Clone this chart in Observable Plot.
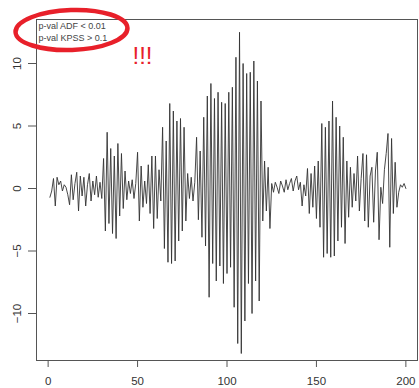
<!DOCTYPE html>
<html>
<head>
<meta charset="utf-8">
<script src="https://cdn.jsdelivr.net/npm/d3@7"></script>
<script src="https://cdn.jsdelivr.net/npm/@observablehq/plot@0.6"></script>
<style>
  html, body { margin: 0; padding: 0; background: #fff; }
  #chart { width: 419px; height: 388px; overflow: hidden; }
</style>
</head>
<body>
<div id="chart"></div>
<script>
// Series values, t = 1..200
const values = [
  -0.7, -0.2, 0.8, -1.4, 0.9, 0.3, 0.6, -0.2, 0.3, 0.1,
  -0.5, -1.3, 1.1, -0.9, 0.4, 1.3, -1.8, 1.0, -0.6, 0.9,
  -1.4, 0.3, 1.2, -1.0, 0.6, -0.5, 1.0, -0.7, 0.5, -0.8,
  2.4, -3.4, 4.5, -2.8, 3.2, -3.6, 2.6, -4.0, 3.6, -2.2,
  2.8, -1.6, 1.4, -0.9, 0.6, -0.4, 0.7, -0.8, 0.4, 2.9,
  -2.6, 1.8, -1.5, 0.6, -1.2, 1.9, -2.0, 2.6, -3.2, 2.6,
  -2.4, 1.5, -1.0, 4.9, -4.8, 3.8, -5.9, 6.8, -6.0, 6.2,
  -5.8, 5.4, -4.2, 5.6, -3.4, 4.9, -2.6, 1.2, -0.8, 0.9,
  -1.0, 0.5, 4.1, -2.5, 3.0, -3.9, 5.7, -4.6, 7.4, -8.7,
  8.4, -6.0, 7.2, -7.4, 7.7, -6.2, 6.9, -7.6, 6.8, -6.8,
  7.7, -6.3, 8.1, -9.5, 10.5, -12.4, 12.5, -13.2, 10.0, -10.6,
  9.2, -7.6, 9.3, -10.0, 10.2, -7.4, 8.6, -9.0, 7.0, -2.6,
  2.2, -1.8, 1.7, -3.2, 0.4, -0.3, 0.5, 0.1, -0.4, 0.6,
  0.2, -0.3, 0.7, -0.1, 0.4, 0.8, -0.2, 0.6, 1.0, -0.1,
  0.5, -1.4, 0.3, -0.6, 1.6, -2.0, 1.2, -1.5, 1.8, -2.4,
  2.2, -3.1, 5.2, -5.5, 4.9, -5.2, 5.4, -5.5, 7.0, -5.4,
  5.7, -4.2, 5.0, -3.1, 4.1, -4.4, 2.2, -2.3, 1.7, -1.5,
  1.2, -1.0, 2.6, -1.8, 0.8, 2.8, -2.6, 2.7, -3.1, 1.0,
  1.7, -2.7, 1.4, 2.9, -4.1, 0.1, -1.2, 1.5, 2.8, 4.4,
  -4.7, 4.0, -2.0, 2.1, -1.5, -0.3, 0.3, 0.1, 0.4, 0.0
];
const xTicks = [0, 50, 100, 150, 200];
const yTicks = [-10, -5, 0, 5, 10];
const legendLines = ["p-val ADF < 0.01", "p-val KPSS > 0.1"];
const alarmText = ["!!!"];

const data = values.map((v, i) => ({t: i + 1, v}));

const plot = Plot.plot({
  width: 419,
  height: 388,
  marginLeft: 36,
  marginTop: 19,
  marginRight: 2,
  marginBottom: 28,
  style: {fontFamily: "'Liberation Sans', Arial, sans-serif", background: "#fff", overflow: "visible"},
  x: {domain: [-6.5, 206.5]},
  y: {domain: [-13.76, 13.52]},
  marks: [
    Plot.frame({stroke: "#555", strokeWidth: 1}),
    Plot.line(data, {x: "t", y: "v", stroke: "#333", strokeWidth: 0.9}),
    Plot.axisX(xTicks, {tickSize: 7, tickPadding: 9, fontSize: 11.5, fill: "#333", stroke: "#555", label: null}),
    Plot.axisY(yTicks, {tickSize: 8, tickPadding: 8, tickRotate: -90, fontSize: 11.5, fill: "#333", stroke: "#555", label: null}),
    Plot.text([legendLines[0]], {frameAnchor: "top-left", text: d => d, dx: 2, dy: 3, fontSize: 9, fill: "#444", textAnchor: "start", lineAnchor: "top"}),
    Plot.text([legendLines[1]], {frameAnchor: "top-left", text: d => d, dx: 2, dy: 15, fontSize: 9, fill: "#444", textAnchor: "start", lineAnchor: "top"}),
    Plot.text(alarmText, {frameAnchor: "top-left", text: d => d, dx: 106, dy: 27, fontSize: 24, fill: "#e8202a", textAnchor: "middle", lineAnchor: "top", letterSpacing: 1})
  ]
});

// red hand-drawn-style ellipse around the legend
d3.select(plot).append("ellipse")
  .attr("cx", 71.5).attr("cy", 30)
  .attr("rx", 56).attr("ry", 20)
  .attr("transform", "rotate(-2 71.5 30)")
  .attr("fill", "none")
  .attr("stroke", "#e8202a")
  .attr("stroke-width", 4.5);

document.getElementById("chart").appendChild(plot);
</script>
</body>
</html>
